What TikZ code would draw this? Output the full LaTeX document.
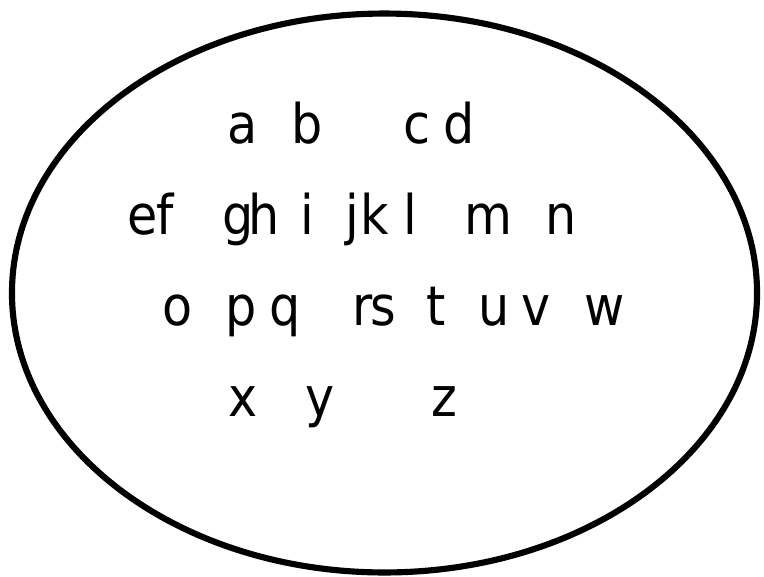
\documentclass[tikz,border=0pt]{standalone}
\usepackage{fontspec}
\newfontfamily\letterfont[FakeStretch=0.9]{DejaVu Sans}
\begin{document}
\begin{tikzpicture}[x=0.75pt,y=-0.75pt,
  letter/.style={inner sep=0pt, anchor=base, font=\letterfont\fontsize{41}{48}\selectfont},
  outline/.style={draw=black, line width=4.6pt}]
\useasboundingbox (0,0) rectangle (764,576);
\draw[outline] (384.5,293) ellipse [x radius=279.4pt, y radius=209.6pt];
% row 1
\node[letter] (a) at (243,143) {a};
\node[letter] (b) at (307,143) {b};
\node[letter] (c) at (417,143) {c};
\node[letter] (d) at (459,143) {d};
% row 2
\node[letter] (e) at (143,234) {e};
\node[letter] (f) at (165,234) {f};
\node[letter] (g) at (238,234) {g};
\node[letter] (h) at (264,234) {h};
\node[letter] (i) at (307,234) {i};
\node[letter] (j) at (352,234) {j};
\node[letter] (k) at (375,234) {k};
\node[letter] (l) at (410,234) {l};
\node[letter] (m) at (488,234) {m};
\node[letter] (n) at (561,234) {n};
% row 3
\node[letter] (o) at (178,325) {o};
\node[letter] (p) at (241,325) {p};
\node[letter] (q) at (285,325) {q};
\node[letter] (r) at (363,325) {r};
\node[letter] (s) at (383,325) {s};
\node[letter] (t) at (436,325) {t};
\node[letter] (u) at (494,325) {u};
\node[letter] (v) at (536,325) {v};
\node[letter] (w) at (605,325) {w};
% row 4
\node[letter] (x) at (243,416) {x};
\node[letter] (y) at (320,416) {y};
\node[letter] (z) at (444,416) {z};
\end{tikzpicture}
\end{document}
